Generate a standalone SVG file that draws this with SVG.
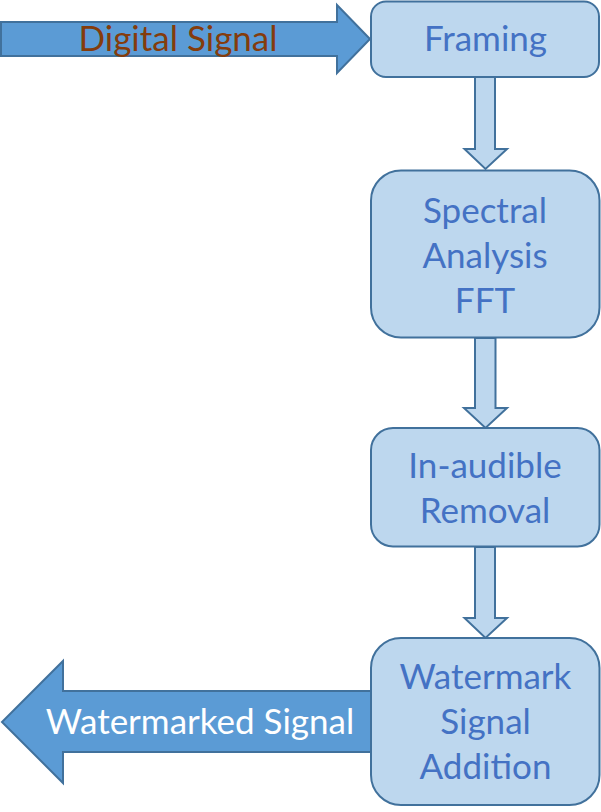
<svg xmlns="http://www.w3.org/2000/svg" width="601" height="812" viewBox="0 0 601 812">
<style>
.box{fill:#BDD7EE;stroke:#41719C;stroke-width:2}
.arr{fill:#5B9BD5;stroke:#41719C;stroke-width:2;stroke-linejoin:miter}
.darr{fill:#BDD7EE;stroke:#41719C;stroke-width:2}
text{font-family:Lato,"Open Sans","Liberation Sans",sans-serif;font-size:35px;text-anchor:middle}
.bt{fill:#4472C4}
</style>
<rect width="601" height="812" fill="#FFFFFF"/>
<g id="connectors">
<path class="darr" d="M475,77 H495 V149 H507 L485.5,169 L464.5,149 H475 Z"/>
<path class="darr" d="M475,338 H495.5 V408 H507 L485.5,428 L464,408 H475 Z"/>
<path class="darr" d="M475,547 H495 V618 H507 L485.5,638 L464.5,618 H475 Z"/>
</g>
<g id="input-arrow">
<path class="arr" d="M1,22 H337 V5 L370,39 L337,73 V56 H1 Z"/>
<text x="178" y="51" fill="#843C0C">Digital Signal</text>
</g>
<g id="output-arrow">
<path class="arr" d="M372,691 H63 V661 L2,722 L63,783 V752 H372 Z"/>
<text x="200" y="734" fill="#FFFFFF">Watermarked Signal</text>
</g>
<g id="framing">
<rect class="box" x="371" y="1.5" width="228" height="75.5" rx="15"/>
<text class="bt" x="485.5" y="51">Framing</text>
</g>
<g id="spectral">
<rect class="box" x="371" y="170.5" width="228.5" height="167" rx="30"/>
<text class="bt" x="485" y="223">Spectral</text>
<text class="bt" x="485" y="268">Analysis</text>
<text class="bt" x="485" y="313">FFT</text>
</g>
<g id="inaudible">
<rect class="box" x="371" y="428" width="228.5" height="118.5" rx="22"/>
<text class="bt" x="485" y="478">In-audible</text>
<text class="bt" x="485" y="523">Removal</text>
</g>
<g id="watermark">
<rect class="box" x="371" y="638" width="228.5" height="167" rx="30"/>
<text class="bt" x="485.5" y="689">Watermark</text>
<text class="bt" x="485.5" y="734">Signal</text>
<text class="bt" x="485.5" y="779">Addition</text>
</g>
</svg>
